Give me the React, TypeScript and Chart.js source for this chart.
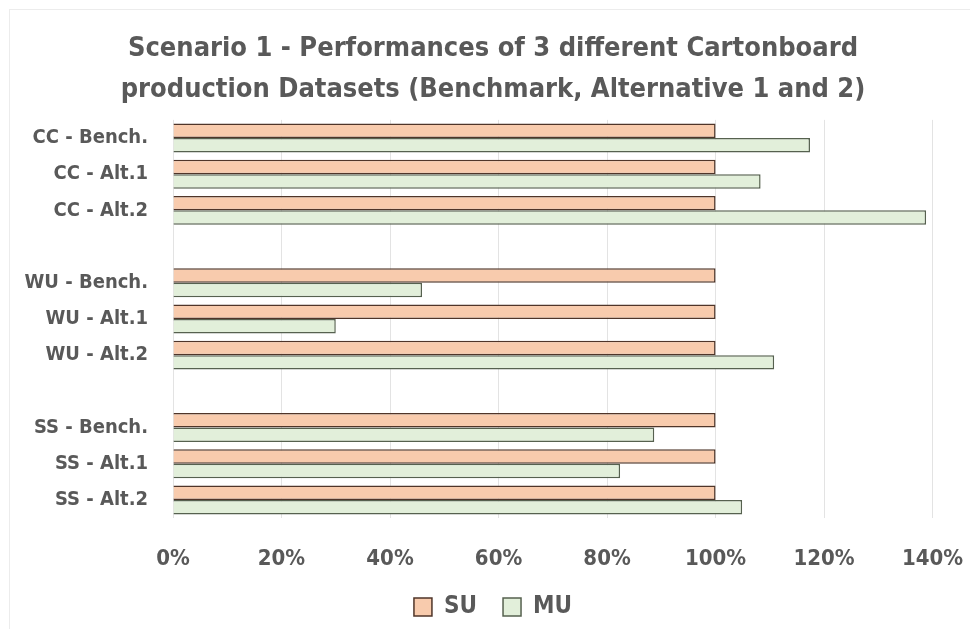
import React, { useEffect, useRef } from "react";
import { Chart, registerables } from "chart.js";

Chart.register(...registerables);

const categories = [
  "CC - Bench.",
  "CC - Alt.1",
  "CC - Alt.2",
  "",
  "WU - Bench.",
  "WU - Alt.1",
  "WU - Alt.2",
  "",
  "SS - Bench.",
  "SS - Alt.1",
  "SS - Alt.2",
];

const suValues = [1.0, 1.0, 1.0, null, 1.0, 1.0, 1.0, null, 1.0, 1.0, 1.0];
const muValues = [1.174, 1.083, 1.388, null, 0.459, 0.3, 1.108, null, 0.887, 0.824, 1.049];

const titleLines = [
  "Scenario 1 - Performances of 3 different Cartonboard",
  "production Datasets (Benchmark, Alternative 1 and 2)",
];

const FONT = "'Liberation Sans Narrow', 'DejaVu Sans Condensed', 'Open Sans', sans-serif";
const GREY = "#595959";

export default function App() {
  const ref = useRef<HTMLCanvasElement | null>(null);

  useEffect(() => {
    document.body.style.margin = "0";
    const canvas = ref.current;
    if (!canvas) return;
    const chart = new Chart(canvas, {
      type: "bar",
      data: {
        labels: categories,
        datasets: [
          {
            label: "SU",
            data: suValues,
            backgroundColor: "#F8CBAD",
            borderColor: "#4f3529",
            borderWidth: 1.5,
            categoryPercentage: 0.8,
            barPercentage: 1.0,
          },
          {
            label: "MU",
            data: muValues,
            backgroundColor: "#E2EFDA",
            borderColor: "#56614f",
            borderWidth: 1.5,
            categoryPercentage: 0.8,
            barPercentage: 1.0,
          },
        ],
      },
      options: {
        indexAxis: "y",
        responsive: false,
        animation: false,
        layout: { padding: { left: 16, right: 0, top: 0, bottom: 0 } },
        plugins: {
          title: {
            display: true,
            text: titleLines,
            color: GREY,
            font: { family: FONT, size: 27, weight: "bold", lineHeight: 1.52 },
            padding: { top: 28.5, bottom: 9.3 },
          },
          legend: {
            position: "bottom",
            labels: {
              color: GREY,
              font: { family: FONT, size: 24, weight: "bold" },
              boxWidth: 18,
              boxHeight: 18,
              padding: 26,
            },
          },
          tooltip: { enabled: false },
        },
        scales: {
          x: {
            min: 0,
            max: 1.4,
            ticks: {
              stepSize: 0.2,
              color: GREY,
              font: { family: FONT, size: 22, weight: "bold" },
              padding: 28,
              callback: (v: any) => Math.round(Number(v) * 100) + "%",
            },
            grid: { color: "#e3e3e3", drawTicks: false, lineWidth: 1 },
            border: { display: false },
            afterFit: (scale: any) => {
              scale.height = 51;
              scale.paddingRight = 37.4;
              scale.paddingLeft = 0;
            },
          },
          y: {
            ticks: {
              color: GREY,
              font: { family: FONT, size: 20, weight: "bold" },
              padding: 25,
              autoSkip: false,
            },
            grid: { display: false, drawTicks: false },
            border: { display: false },
            afterFit: (scale: any) => {
              scale.width = 157;
            },
          },
        },
      },
    });
    return () => chart.destroy();
  }, []);

  return (
    <div style={{ position: "relative", width: 970, height: 629, background: "#fff" }}>
      <canvas ref={ref} width={970} height={629} style={{ display: "block" }} />
      <div
        style={{
          position: "absolute",
          left: 9,
          top: 9,
          right: 0,
          bottom: 0,
          borderLeft: "1px solid #ececec",
          borderTop: "1px solid #ececec",
          pointerEvents: "none",
        }}
      />
    </div>
  );
}
